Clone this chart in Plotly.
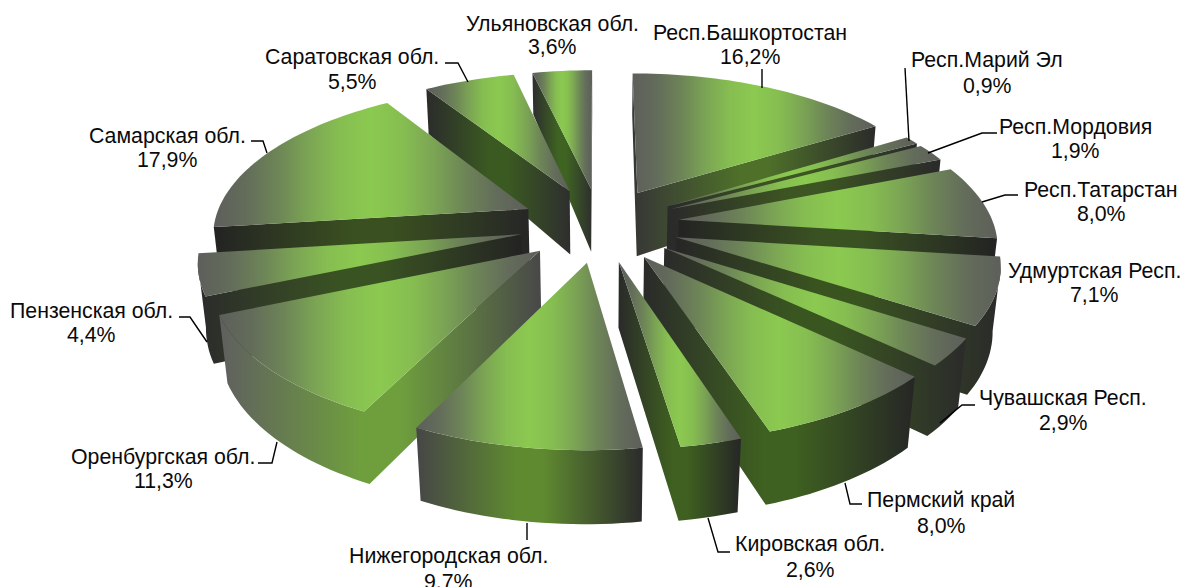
import numpy as np
import plotly.graph_objects as go

names = ["Респ.Башкортостан", "Респ.Марий Эл", "Респ.Мордовия", "Респ.Татарстан",
         "Удмуртская Респ.", "Чувашская Респ.", "Пермский край", "Кировская обл.",
         "Нижегородская обл.", "Оренбургская обл.", "Пензенская обл.", "Самарская обл.",
         "Саратовская обл.", "Ульяновская обл."]
values = [16.2, 0.9, 1.9, 8.0, 7.1, 2.9, 8.0, 2.6, 9.7, 11.3, 4.4, 17.9, 5.5, 3.6]

# fitted view of the exploded 3-D pie
CX, CY, SX, SY, PERSP, EXPLODE = 599.7, 224.45, 314.9, 146.4, 0.1509, 0.254
DEPTH_W = [-1.25, -0.25, 0.3, 1.25]
DEPTH_H = [41, 63, 66, 74]
VANISH = (600, 3500)

FACE_SCALE = [[0, "#5d5f5b"], [0.1, "#636c5a"], [0.2, "#6d8457"], [0.3, "#7ba454"], [0.4, "#86be51"],
              [0.5, "#8bc950"], [0.6, "#86be51"], [0.7, "#7ba454"], [0.8, "#6d8457"], [0.9, "#636c5a"],
              [1, "#5d5f5b"]]
wall_left = ["#363636", "#2a2a2a", "#2a2a2a", "#232323", "#262626", "#2a2a2a", "#2a2a2a",
             "#2a2a2a", "#464646", "#5f5f5f", "#2b2b2b", "#232323", "#2b2b2b", "#2d2d2d"]
wall_mid = ["#4e7029", "#3d5522", "#3d5522", "#3a5222", "#3a5420", "#3a5620", "#3e6020",
            "#3f6020", "#5f8a30", "#6f9f3d", "#3a5322", "#3a5020", "#3b5a22", "#3f6422"]
wall_right = ["#2b2b2b", "#2a2a2a", "#2a2a2a", "#232323", "#2a2a2a", "#2b2b2b", "#262626",
              "#262626", "#2b2b2b", "#484848", "#232323", "#262626", "#2e2e2e", "#2e2e2e"]
draw_order = [0, 1, 2, 3, 4, 5, 6, 13, 12, 11, 10, 9, 7, 8]

# label centres: name line x, name line y, value line y
label_x = [750, 987, 1075, 1101, 1094, 1063, 941, 810, 448, 163, 91, 167, 352, 552]
label_y1 = [33, 60, 127, 190, 271, 398, 500, 544, 556, 457, 311, 136, 57, 24]
label_y2 = [57, 86, 151, 214, 295, 423, 526, 570, 582, 481, 335, 160, 82, 47]
leader_x = [[762, 762], [905, 909], [997, 982, 928], [1018, 1005, 982], None,
            [975, 962, 940], [862, 850, 845], [730, 718, 708], [527, 527],
            [258, 272, 277], [179, 190, 207], [251, 263, 267], [445, 458, 468], None]
leader_y = [[69, 88], [68, 141], [133, 133, 153], [195, 195, 202], None,
            [405, 405, 423], [504, 504, 483], [552, 552, 518], [540, 523],
            [463, 463, 442], [317, 317, 342], [141, 141, 153], [63, 63, 82], None]


def project(u, w):
    s = 1 / (1 - PERSP * w)
    return CX + SX * u * s, CY + SY * w * s


def drop(x, y, w):
    h = np.interp(w, DEPTH_W, DEPTH_H)
    return x + h * (VANISH[0] - x) / (VANISH[1] - y), y + h


total = sum(values)
edges = np.cumsum([0] + values) / total * 2 * np.pi
fig = go.Figure()

for i in draw_order:
    a, b = edges[i], edges[i + 1]
    m = (a + b) / 2
    tu, tw = EXPLODE * np.sin(m), -EXPLODE * np.cos(m)
    n = max(3, int((b - a) * 40))
    th = np.linspace(a, b, n)
    us = np.r_[tu, tu + np.sin(th)]
    ws = np.r_[tw, tw - np.cos(th)]
    xs, ys = project(us, ws)
    k = len(xs)
    vis = [xs[(j + 1) % k] - xs[j] < 0 for j in range(k)]
    # walk round the outline and join consecutive visible edges into wall polygons
    start = next((j for j in range(k) if not vis[j]), 0)
    wx, wy = [], []
    j = 0
    while j < k:
        e = (start + j) % k
        if vis[e]:
            run = [e]
            j2 = j + 1
            while j2 < k and vis[(start + j2) % k]:
                run.append((start + j2) % k)
                j2 += 1
            idx = run + [(run[-1] + 1) % k]
            tx = [xs[q] for q in idx]
            ty = [ys[q] for q in idx]
            bot = [drop(xs[q], ys[q], ws[q]) for q in idx][::-1]
            wx += tx + [p[0] for p in bot] + [tx[0], None]
            wy += ty + [p[1] for p in bot] + [ty[0], None]
            j = j2
        else:
            j += 1
    if wx:
        fig.add_trace(go.Scatter(
            x=wx, y=wy, mode="none", fill="toself", hoverinfo="skip", showlegend=False,
            fillgradient=dict(type="horizontal", colorscale=[
                [0, wall_left[i]], [0.44, wall_mid[i]], [0.56, wall_mid[i]], [1, wall_right[i]]])))
    fig.add_trace(go.Scatter(
        x=np.r_[xs, xs[0]], y=np.r_[ys, ys[0]], mode="none", fill="toself",
        name=names[i], hoverinfo="skip", showlegend=False,
        fillgradient=dict(type="horizontal", colorscale=FACE_SCALE)))

lx, ly = [], []
for px, py in zip(leader_x, leader_y):
    if px:
        lx += px + [None]
        ly += py + [None]
fig.add_trace(go.Scatter(x=lx, y=ly, mode="lines", line=dict(color="black", width=1.4),
                         hoverinfo="skip", showlegend=False))

FONT = dict(family="Liberation Sans, Arial, sans-serif", size=21.3, color="#0a0a0a")
for nm, v, x, y1, y2 in zip(names, values, label_x, label_y1, label_y2):
    fig.add_annotation(x=x, y=y1, text=nm, showarrow=False, font=FONT, xanchor="center", yanchor="middle")
    fig.add_annotation(x=x, y=y2, text=f"{v:.1f}%".replace(".", ","), showarrow=False, font=FONT,
                       xanchor="center", yanchor="middle")

fig.update_layout(
    width=1185, height=587, margin=dict(l=0, r=0, t=0, b=0),
    paper_bgcolor="white", plot_bgcolor="white", showlegend=False,
    xaxis=dict(range=[0, 1185], visible=False, fixedrange=True),
    yaxis=dict(range=[587, 0], visible=False, fixedrange=True),
)
fig.write_html("out.html", config=dict(displayModeBar=False),
               post_script="document.body.style.margin='0';document.body.style.overflow='hidden';")
